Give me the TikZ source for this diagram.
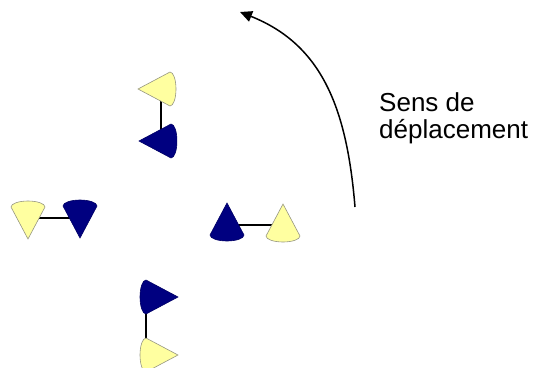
\documentclass[tikz,border=0pt]{standalone}
\usepackage{fontspec}
\setmainfont{Liberation Sans}
\usepackage{tikz}
\usetikzlibrary{arrows.meta,positioning}
\definecolor{bleuC}{RGB}{0,0,128}
\definecolor{jauneC}{RGB}{255,255,160}
\definecolor{grisC}{RGB}{150,150,130}
\tikzset{
  cone/.pic={\path[pic actions] (0,0) -- (-17,32)
             arc[start angle=180, end angle=0, x radius=17, y radius=6] -- cycle;},
  bleu/.style={fill=bleuC, draw=bleuC!80!black, line width=0.6pt},
  jaune/.style={fill=jauneC, draw=grisC, line width=0.6pt},
  lien/.style={draw=black, line width=1.4pt},
  arr/.style={-{Triangle[length=12pt, width=11pt]}, line width=1.5pt, draw=black},
}

\begin{document}
\begin{tikzpicture}[x=1pt, y=-1pt]
        \useasboundingbox (0,0) rectangle (534,367);
        % liens
        \coordinate (h1) at (161,89);  \coordinate (h2) at (161,141);
        \coordinate (g1) at (28,218);  \coordinate (g2) at (80,218);
        \coordinate (d1) at (227,225); \coordinate (d2) at (283,225);
        \coordinate (b1) at (146,297); \coordinate (b2) at (146,355);
        \draw[lien] (h1) -- (h2); \draw[lien] (g1) -- (g2);
        \draw[lien] (d1) -- (d2); \draw[lien] (b1) -- (b2);
        % cones
        \begin{scope}
          \clip (0,0) rectangle (177,367);
          \pic[jaune, rotate=90] (hj) at (138,89) {cone};
          \pic[bleu, rotate=90] (hb) at (139,141) {cone};
        \end{scope}
        \pic[jaune, rotate=180] (gj) at (28,239) {cone};
        \pic[bleu, rotate=180] (gb) at (80,238) {cone};
        \pic[bleu] (db) at (227,203) {cone};
        \pic[jaune] (dj) at (283,204) {cone};
        \pic[bleu, rotate=-90] (bb) at (178,297) {cone};
        \pic[jaune, rotate=-90] (bj) at (178,355) {cone};
        % sens
        \coordinate (depart) at (355,207);
        \coordinate (fin) at (240,12);
        \draw[arr] (depart) .. controls (347,110) and (323,45) .. (fin);
        \node[anchor=north west, inner sep=0pt, align=left,
              font=\fontsize{26}{27}\selectfont] (sens) at (379,92)
          {Sens de\\déplacement};
      \end{tikzpicture}
\end{document}
